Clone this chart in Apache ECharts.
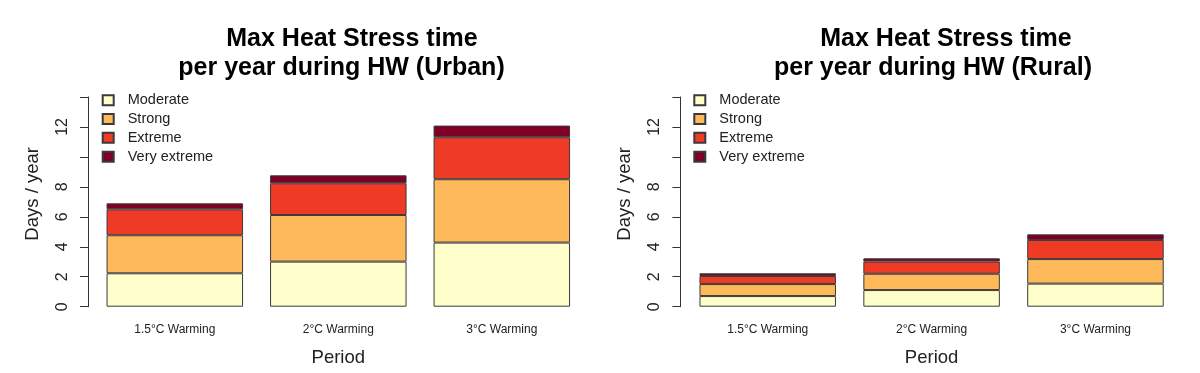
<!DOCTYPE html>
<html><head><meta charset="utf-8">
<script src="https://cdn.jsdelivr.net/npm/echarts@6/dist/echarts.min.js"></script>
<style>html,body{margin:0;padding:0;background:#fff}#c{width:1200px;height:373px}</style>
</head><body><div id="c"></div>
<script>
const categories = ['1.5°C Warming', '2°C Warming', '3°C Warming'];
const levels = ['Moderate', 'Strong', 'Extreme', 'Very extreme'];
const urbanModerate = [2.23, 3.01, 4.28];
const urbanStrong = [2.54, 3.11, 4.23];
const urbanExtreme = [1.73, 2.12, 2.80];
const urbanVeryExtreme = [0.40, 0.53, 0.78];
const ruralModerate = [0.71, 1.11, 1.54];
const ruralStrong = [0.80, 1.09, 1.64];
const ruralExtreme = [0.54, 0.81, 1.27];
const ruralVeryExtreme = [0.18, 0.22, 0.38];
const yTickLabels = [0, 2, 4, 6, 8, 12];
const colors = ['#FFFFCC', '#FEB95B', '#EF3B26', '#7F0024'];

const FONT = '"Liberation Sans", Arial, sans-serif';
const chart = echarts.init(document.getElementById('c'), null, {renderer: 'canvas'});

function yAxisCfg(gi, offset) {
  return {
    type: 'value', gridIndex: gi, min: 0, max: 14, interval: 2, offset: offset,
    axisLine: {show: true, lineStyle: {color: '#333', width: 1}},
    axisTick: {show: true, length: 8, lineStyle: {color: '#333', width: 1}},
    splitLine: {show: false},
    axisLabel: {rotate: 90, margin: 17.5, fontSize: 16, color: '#222', fontFamily: FONT,
      formatter: v => yTickLabels.includes(v) ? String(v) : ''},
    name: 'Days / year', nameLocation: 'middle', nameGap: 46,
    nameTextStyle: {fontSize: 18.5, color: '#222', fontFamily: FONT, padding: [0, 0, 0, 16]}
  };
}
function xAxisCfg(gi) {
  return {
    type: 'category', gridIndex: gi, data: categories,
    axisLine: {show: false}, axisTick: {show: false},
    axisLabel: {margin: 17, fontSize: 12, color: '#222', fontFamily: FONT},
    name: 'Period', nameLocation: 'middle', nameGap: 42,
    nameTextStyle: {fontSize: 18.5, color: '#222', fontFamily: FONT}
  };
}
function legendCfg(left) {
  return {
    left: left, top: 92.75, padding: 0, orient: 'vertical', itemWidth: 11, itemHeight: 10, itemGap: 3.8,
    icon: 'rect', selectedMode: false, data: levels,
    textStyle: {fontSize: 14.5, lineHeight: 14.5, color: '#222', fontFamily: FONT, padding: [0, 0, 0, 9]}
  };
}
const urban = [urbanModerate, urbanStrong, urbanExtreme, urbanVeryExtreme];
const rural = [ruralModerate, ruralStrong, ruralExtreme, ruralVeryExtreme];
const series = [];
[urban, rural].forEach((set, gi) => {
  set.forEach((vals, i) => {
    series.push({
      type: 'bar', name: levels[i], xAxisIndex: gi, yAxisIndex: gi, stack: 's' + gi,
      data: vals, barWidth: 136.5,
      itemStyle: {color: colors[i], borderColor: '#3a3a3a', borderWidth: 1},
      emphasis: {disabled: true}
    });
  });
});
const titleStyle = {fontSize: 25, fontWeight: 'bold', color: '#000', fontFamily: FONT, lineHeight: 25};
chart.setOption({
  animation: false,
  title: [
    {text: 'Max Heat Stress time', left: 352, top: 27, textAlign: 'center', padding: 0, textStyle: titleStyle},
    {text: 'per year during HW (Urban)', left: 341.5, top: 56, textAlign: 'center', padding: 0, textStyle: titleStyle},
    {text: 'Max Heat Stress time', left: 946, top: 27, textAlign: 'center', padding: 0, textStyle: titleStyle},
    {text: 'per year during HW (Rural)', left: 933, top: 56, textAlign: 'center', padding: 0, textStyle: titleStyle}
  ],
  legend: [legendCfg(101.7), legendCfg(693.3)],
  grid: [
    {left: 93.05, top: 97, width: 490.5, height: 209.7},
    {left: 685.8, top: 97, width: 491.6, height: 209.7}
  ],
  xAxis: [xAxisCfg(0), xAxisCfg(1)],
  yAxis: [yAxisCfg(0, 5), yAxisCfg(1, 5.4)],
  series: series
});
</script></body></html>
